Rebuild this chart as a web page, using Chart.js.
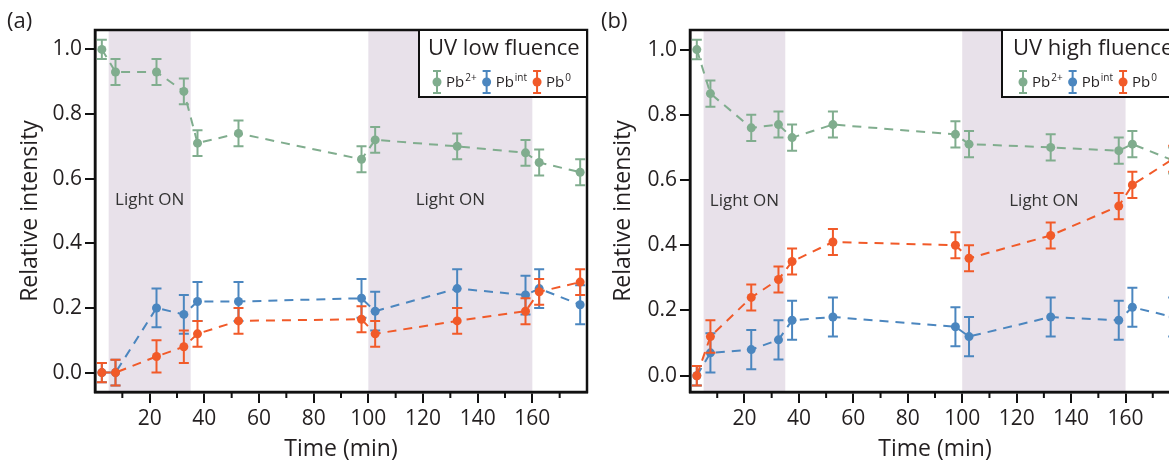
<!DOCTYPE html>
<html>
<head>
<meta charset="utf-8">
<title>Relative intensity vs time</title>
<script src="https://cdn.jsdelivr.net/npm/chart.js@4.4.1/dist/chart.umd.min.js"></script>
<style>
  html, body { margin: 0; padding: 0; background: #fff; overflow: hidden; }
  body { width: 1169px; height: 465px; position: relative; }
  .panel { position: absolute; top: 0; width: 600px; height: 465px; }
  #panel-a { left: 0; }
  #panel-b { left: 600px; }
</style>
</head>
<body>
<div class="panel" id="panel-a"><canvas id="chart-a" width="600" height="465"></canvas></div>
<div class="panel" id="panel-b"><canvas id="chart-b" width="600" height="465"></canvas></div>
<script>
// sampling times (min), shared by both panels
const timeMin = [2.5, 7.5, 22.5, 32.5, 37.5, 52.5, 97.5, 102.5, 132.5, 157.5, 162.5, 177.5];

const xTickValues = [20, 40, 60, 80, 100, 120, 140, 160];
const xMinorTickValues = [10, 30, 50, 70, 90, 110, 130, 150, 170];
const yTickValues = [0, 0.2, 0.4, 0.6, 0.8, 1.0];
const lightOnWindows = [[5, 35], [100, 160]];

const seriesBase = ['Pb', 'Pb', 'Pb'];
const seriesSup = ['2+', 'int', '0'];

// (a) UV low fluence
const lowPb2 = [1.00, 0.93, 0.93, 0.87, 0.71, 0.74, 0.66, 0.72, 0.70, 0.68, 0.65, 0.62];
const lowPb2Err = [0.03, 0.04, 0.04, 0.04, 0.04, 0.04, 0.04, 0.04, 0.04, 0.04, 0.04, 0.04];
const lowPbInt = [0.00, 0.00, 0.20, 0.18, 0.22, 0.22, 0.23, 0.19, 0.26, 0.24, 0.26, 0.21];
const lowPbIntErr = [0.03, 0.04, 0.06, 0.06, 0.06, 0.06, 0.06, 0.06, 0.06, 0.06, 0.06, 0.06];
const lowPb0 = [0.00, 0.00, 0.05, 0.08, 0.12, 0.16, 0.165, 0.12, 0.16, 0.19, 0.25, 0.28];
const lowPb0Err = [0.03, 0.04, 0.05, 0.05, 0.04, 0.04, 0.04, 0.04, 0.04, 0.04, 0.04, 0.04];

// (b) UV high fluence
const highPb2 = [1.00, 0.865, 0.76, 0.77, 0.73, 0.77, 0.74, 0.71, 0.70, 0.69, 0.71, 0.66];
const highPb2Err = [0.03, 0.04, 0.04, 0.04, 0.04, 0.04, 0.04, 0.04, 0.04, 0.04, 0.04, 0.04];
const highPbInt = [0.00, 0.07, 0.08, 0.11, 0.17, 0.18, 0.15, 0.12, 0.18, 0.17, 0.21, 0.18];
const highPbIntErr = [0.03, 0.06, 0.06, 0.06, 0.06, 0.06, 0.06, 0.06, 0.06, 0.06, 0.06, 0.06];
const highPb0 = [0.00, 0.12, 0.24, 0.295, 0.35, 0.41, 0.40, 0.36, 0.43, 0.52, 0.585, 0.665];
const highPb0Err = [0.03, 0.05, 0.04, 0.04, 0.04, 0.04, 0.04, 0.04, 0.04, 0.04, 0.04, 0.04];

const FONT = "'Open Sans', 'Noto Sans', sans-serif";
const INK = '#231f20';
const COLORS = ['#80ad8e', '#4b86bf', '#f15a29'];
const SHADE = '#e8e1ea';

function toPoints(values) {
  return values.map((v, i) => ({ x: timeMin[i], y: v }));
}

function drawErrorGlyph(ctx, x, y, color) {
  ctx.strokeStyle = color;
  ctx.fillStyle = color;
  ctx.lineWidth = 2;
  ctx.beginPath();
  ctx.moveTo(x, y - 11); ctx.lineTo(x, y + 11);
  ctx.moveTo(x - 4, y - 11); ctx.lineTo(x + 4, y - 11);
  ctx.moveTo(x - 4, y + 11); ctx.lineTo(x + 4, y + 11);
  ctx.stroke();
  ctx.beginPath();
  ctx.arc(x, y, 4.5, 0, Math.PI * 2);
  ctx.fill();
}

const panelDecor = {
  id: 'panelDecor',
  beforeDatasetsDraw(chart) {
    const { ctx, chartArea: a, scales: { x, y } } = chart;
    ctx.save();
    ctx.fillStyle = SHADE;
    lightOnWindows.forEach(([t0, t1]) => {
      const x0 = x.getPixelForValue(t0);
      const x1 = x.getPixelForValue(t1);
      ctx.fillRect(x0, a.top, x1 - x0, a.bottom - a.top);
    });
    ctx.fillStyle = '#333';
    ctx.font = `17px ${FONT}`;
    ctx.textAlign = 'center';
    ctx.textBaseline = 'middle';
    lightOnWindows.forEach(([t0, t1]) => {
      ctx.fillText('Light ON', x.getPixelForValue((t0 + t1) / 2), y.getPixelForValue(0.535));
    });
    ctx.restore();
  },
  afterDatasetDraw(chart, args) {
    const ds = chart.data.datasets[args.index];
    const { ctx, scales: { x, y } } = chart;
    ctx.save();
    ctx.strokeStyle = ds.borderColor;
    ctx.lineWidth = 2;
    ds.data.forEach((p, i) => {
      const err = ds.errors[i];
      const px = x.getPixelForValue(p.x);
      const yTop = y.getPixelForValue(p.y + err);
      const yBot = y.getPixelForValue(p.y - err);
      ctx.beginPath();
      ctx.moveTo(px, yTop); ctx.lineTo(px, yBot);
      ctx.moveTo(px - 5, yTop); ctx.lineTo(px + 5, yTop);
      ctx.moveTo(px - 5, yBot); ctx.lineTo(px + 5, yBot);
      ctx.stroke();
    });
    ctx.restore();
  },
  afterDraw(chart, args, opts) {
    const { ctx, chartArea: a, scales: { x } } = chart;
    ctx.save();

    // frame
    ctx.strokeStyle = '#111';
    ctx.lineWidth = 2.5;
    ctx.strokeRect(a.left, a.top, a.right - a.left, a.bottom - a.top);

    // minor x ticks
    ctx.lineWidth = 2;
    ctx.beginPath();
    xMinorTickValues.forEach(v => {
      const px = x.getPixelForValue(v);
      ctx.moveTo(px, a.bottom);
      ctx.lineTo(px, a.bottom + 6);
    });
    ctx.stroke();

    // legend box
    const left = opts.legendLeft;
    const top = a.top;
    const bottom = opts.legendBottom;
    ctx.fillStyle = '#fff';
    ctx.fillRect(left, top, a.right - left, bottom - top);
    ctx.strokeStyle = '#111';
    ctx.lineWidth = 2;
    ctx.strokeRect(left, top, a.right - left, bottom - top);

    ctx.fillStyle = INK;
    ctx.font = `22px ${FONT}`;
    ctx.textAlign = 'left';
    ctx.textBaseline = 'middle';
    ctx.fillText(opts.legendTitle, left + opts.titleInset, top + 19);

    let ex = left + opts.entryInset;
    const ey = top + 52;
    seriesBase.forEach((base, i) => {
      drawErrorGlyph(ctx, ex, ey, COLORS[i]);
      ctx.fillStyle = INK;
      ctx.font = `15px ${FONT}`;
      ctx.fillText(base, ex + 9, ey + 1);
      const w1 = ctx.measureText(base).width;
      ctx.font = `10px ${FONT}`;
      ctx.fillText(seriesSup[i], ex + 10 + w1, ey - 4);
      const w2 = ctx.measureText(seriesSup[i]).width;
      ex = ex + 10 + w1 + w2 + 10;
    });

    // panel label
    ctx.fillStyle = INK;
    ctx.font = `22px ${FONT}`;
    ctx.fillText(opts.panelLabel, opts.panelLabelX, 22);
    ctx.restore();
  }
};

function makePanel(canvasId, cfg) {
  const names = seriesBase.map((b, i) => b + seriesSup[i]);
  const datasets = cfg.series.map((s, i) => ({
    label: names[i],
    data: toPoints(s.values),
    errors: s.errors,
    borderColor: COLORS[i],
    backgroundColor: COLORS[i],
    borderWidth: 2,
    borderDash: [9, 7],
    pointRadius: 4.5,
    pointBorderWidth: 0,
    pointBackgroundColor: COLORS[i],
    tension: 0,
    order: 2 - i
  }));

  return new Chart(document.getElementById(canvasId), {
    type: 'line',
    data: { datasets },
    options: {
      responsive: false,
      animation: false,
      devicePixelRatio: 1,
      layout: { padding: { top: 30, right: cfg.padRight, left: 0, bottom: 0 } },
      plugins: {
        legend: { display: false },
        tooltip: { enabled: false },
        panelDecor: {
          panelLabel: cfg.panelLabel,
          panelLabelX: cfg.panelLabelX,
          legendTitle: cfg.legendTitle,
          legendLeft: cfg.legendLeft,
          legendBottom: 97,
          titleInset: cfg.titleInset,
          entryInset: cfg.entryInset
        }
      },
      scales: {
        x: {
          type: 'linear',
          min: 0,
          max: 180,
          afterBuildTicks: s => { s.ticks = xTickValues.map(v => ({ value: v })); },
          afterFit: s => { s.height = 73; },
          grid: { display: true, drawOnChartArea: false, drawTicks: true, tickLength: 11, color: '#111', lineWidth: 2 },
          border: { display: true, color: '#111', width: 2.5 },
          ticks: { color: INK, font: { family: FONT, size: 21 }, padding: 3, maxRotation: 0 },
          title: { display: true, text: 'Time (min)', color: INK, font: { family: FONT, size: 23 }, padding: { top: 0, bottom: 2 } }
        },
        y: {
          type: 'linear',
          min: cfg.yMin,
          max: cfg.yMax,
          afterBuildTicks: s => { s.ticks = yTickValues.map(v => ({ value: v })); },
          afterFit: s => { s.width = cfg.yAxisWidth; },
          grid: { display: true, drawOnChartArea: false, drawTicks: true, tickLength: 10, color: '#111', lineWidth: 2 },
          border: { display: true, color: '#111', width: 2.5 },
          ticks: { color: INK, font: { family: FONT, size: 21 }, padding: 3, callback: v => Number(v).toFixed(1) },
          title: { display: true, text: 'Relative intensity', color: INK, font: { family: FONT, size: 23 }, padding: { top: cfg.yTitlePad, bottom: 0 } }
        }
      }
    },
    plugins: [panelDecor]
  });
}

makePanel('chart-a', {
  panelLabel: '(a)', panelLabelX: 7,
  legendTitle: 'UV low fluence', legendLeft: 419, titleInset: 9, entryInset: 18,
  yMin: -0.06, yMax: 1.06, yAxisWidth: 95, yTitlePad: 17, padRight: 13,
  series: [
    { values: lowPb2, errors: lowPb2Err },
    { values: lowPbInt, errors: lowPbIntErr },
    { values: lowPb0, errors: lowPb0Err }
  ]
});

makePanel('chart-b', {
  panelLabel: '(b)', panelLabelX: 1,
  legendTitle: 'UV high fluence', legendLeft: 402, titleInset: 11, entryInset: 21,
  yMin: -0.05, yMax: 1.06, yAxisWidth: 90, yTitlePad: 10, padRight: 20,
  series: [
    { values: highPb2, errors: highPb2Err },
    { values: highPbInt, errors: highPbIntErr },
    { values: highPb0, errors: highPb0Err }
  ]
});
</script>
</body>
</html>
